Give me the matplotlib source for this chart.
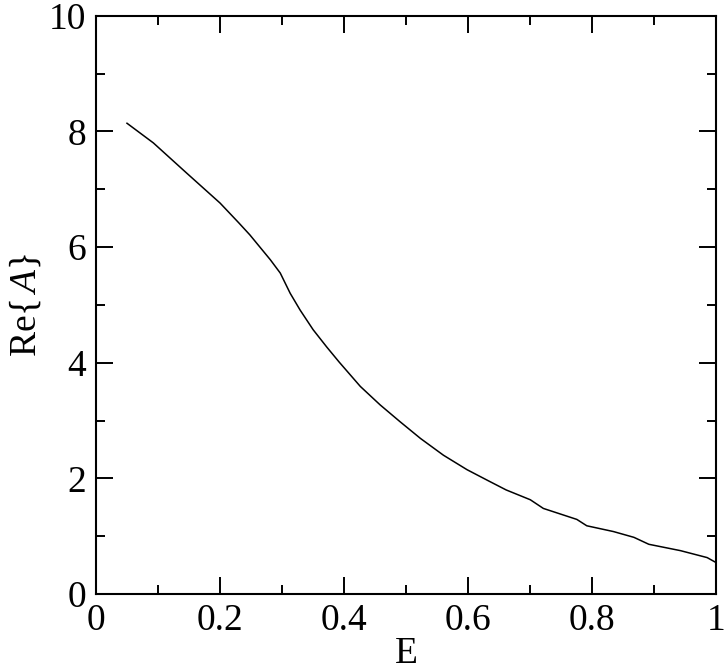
import matplotlib
matplotlib.use("Agg")
import matplotlib.pyplot as plt
from matplotlib.ticker import MultipleLocator

# values
energy = [0.05, 0.0925, 0.146, 0.2, 0.23, 0.248, 0.281, 0.297, 0.313, 0.329,
          0.350, 0.372, 0.392, 0.426, 0.458, 0.490, 0.523, 0.560, 0.598, 0.632,
          0.661, 0.700, 0.721, 0.775, 0.791, 0.834, 0.867, 0.891, 0.942, 0.985,
          1.0]
re_a = [8.14, 7.80, 7.28, 6.76, 6.42, 6.21, 5.78, 5.55, 5.20, 4.91,
        4.57, 4.27, 4.01, 3.59, 3.27, 2.98, 2.69, 2.40, 2.15, 1.96,
        1.80, 1.63, 1.48, 1.29, 1.18, 1.08, 0.98, 0.86, 0.75, 0.63,
        0.54]

x_ticks = [0, 0.2, 0.4, 0.6, 0.8, 1]
x_tick_labels = ["0", "0.2", "0.4", "0.6", "0.8", "1"]
y_ticks = [0, 2, 4, 6, 8, 10]

plt.rcParams["font.family"] = ["Liberation Serif", "DejaVu Serif"]
plt.rcParams["mathtext.fontset"] = "custom"
plt.rcParams["mathtext.rm"] = "Liberation Serif"
plt.rcParams["mathtext.it"] = "Liberation Serif:italic"

fig = plt.figure(figsize=(7.27, 6.7), dpi=100)
ax = fig.add_axes([0.132, 0.1134, 0.8535, 0.8632])

ax.plot(energy, re_a, color="black", linewidth=1.1)

ax.set_xlim(0, 1)
ax.set_ylim(0, 10)
ax.set_xticks(x_ticks)
ax.set_xticklabels(x_tick_labels)
ax.set_yticks(y_ticks)
ax.xaxis.set_minor_locator(MultipleLocator(0.1))
ax.yaxis.set_minor_locator(MultipleLocator(1))

for s in ax.spines.values():
    s.set_linewidth(1.5)

ax.tick_params(which="both", direction="in", top=True, right=True,
               width=1.4, labelsize=27)
ax.tick_params(which="major", length=12, pad=7)
ax.tick_params(which="minor", length=6.5)

ax.set_xlabel("E", fontsize=27, labelpad=-1)
ax.set_ylabel(r"$\mathrm{Re}\{\,A\}$", fontsize=27, labelpad=4)

fig.savefig("out.png", dpi=100)
